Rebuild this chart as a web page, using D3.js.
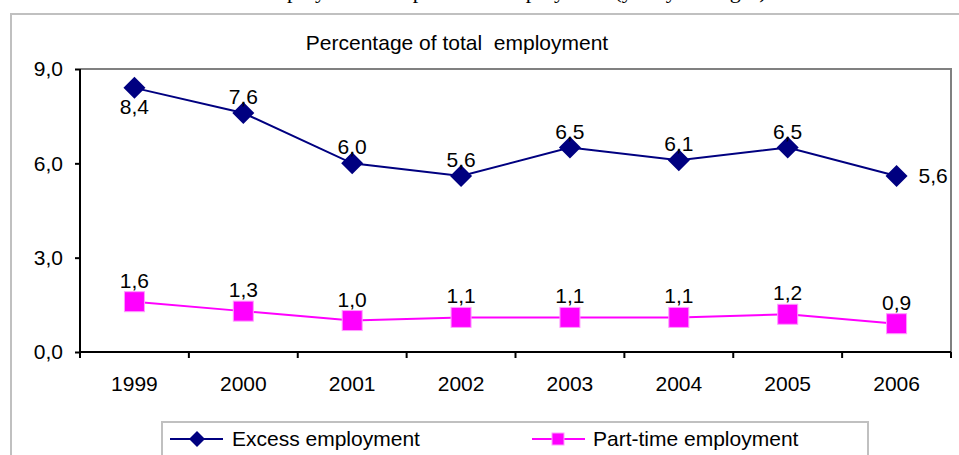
<!DOCTYPE html>
<html>
<head>
<meta charset="utf-8">
<script src="https://cdn.jsdelivr.net/npm/d3@7"></script>
<style>
  body { margin: 0; background: #fff; }
  svg text { font-family: "Liberation Sans", Arial, sans-serif; fill: #000; }
</style>
</head>
<body>
<script>
const years = ['1999', '2000', '2001', '2002', '2003', '2004', '2005', '2006'];
const excess = [8.4, 7.6, 6.0, 5.6, 6.5, 6.1, 6.5, 5.6];
const parttime = [1.6, 1.3, 1.0, 1.1, 1.1, 1.1, 1.2, 0.9];
const y_ticks = [0, 3, 6, 9];

const navy = '#000080';
const magenta = '#ff00ff';
const font_size = '21px';
const fmt = (v) => d3.format('.1f')(v).replace('.', ',');

const x = d3.scaleBand().domain(years).range([80, 951]);
const y = d3.scaleLinear().domain([0, 9]).range([352, 69]);

const svg = d3.select('body').append('svg')
  .attr('width', 959)
  .attr('height', 455);

// document caption above the chart, cut off by the page top as in the source
svg.append('text')
  .attr('x', 480).attr('y', -2)
  .attr('text-anchor', 'middle')
  .style('font-family', '"Liberation Serif", "Times New Roman", serif')
  .style('font-size', '22px')
  .text('Excess employment and part-time employment (yearly averages)');

// chart area border
svg.append('rect')
  .attr('x', 11).attr('y', 14)
  .attr('width', 960).attr('height', 460)
  .attr('fill', 'none')
  .attr('stroke', '#c0c0c0')
  .attr('stroke-width', 2);

svg.append('text')
  .attr('x', 457).attr('y', 50)
  .attr('text-anchor', 'middle')
  .style('font-size', font_size)
  .style('white-space', 'pre')
  .text('Percentage of total  employment');

// plot area border (top and right)
svg.append('path')
  .attr('d', `M${x.range()[0]},${y.range()[1]}H${x.range()[1]}V${y.range()[0]}`)
  .attr('fill', 'none')
  .attr('stroke', '#808080')
  .attr('stroke-width', 2);

// axes
const y_ax = d3.axisLeft(y).tickValues(y_ticks).tickSize(5).tickPadding(12).tickFormat(fmt);
svg.append('g')
  .attr('transform', 'translate(' + x.range()[0] + ',0)')
  .call(y_ax)
  .call(g => g.select('.domain').attr('stroke-width', 2).attr('d', `M0,${y.range()[0]}V${y.range()[1]}`))
  .call(g => g.selectAll('.tick line').attr('stroke-width', 2))
  .call(g => g.selectAll('text').style('font-size', font_size).attr('font-family', null));

const x_ax = d3.axisBottom(x).tickSize(0).tickPadding(24);
const xg = svg.append('g')
  .attr('transform', 'translate(0,' + y.range()[0] + ')')
  .call(x_ax);
xg.select('.domain').attr('stroke-width', 2).attr('d', `M${x.range()[0]},0H${x.range()[1]}`);
xg.selectAll('text').style('font-size', font_size).attr('font-family', null);
xg.selectAll('.sep')
  .data(years.map(d => x(d)).concat([x.range()[1]]))
  .enter().append('line')
    .attr('x1', d => d).attr('x2', d => d)
    .attr('y1', 0).attr('y2', 6)
    .attr('stroke', '#000')
    .attr('stroke-width', 2);

const cx = (i) => x(years[i]) + x.bandwidth() / 2;
const line = d3.line().x((d, i) => cx(i)).y(d => y(d));

function diamond(g, px, py, r) {
  g.append('path')
    .attr('d', `M${px},${py - r}L${px + r},${py}L${px},${py + r}L${px - r},${py}Z`)
    .attr('fill', navy);
}
function square(g, px, py, r) {
  g.append('rect')
    .attr('x', px - r).attr('y', py - r)
    .attr('width', 2 * r).attr('height', 2 * r)
    .attr('fill', magenta)
    .attr('stroke', '#ff9cff')
    .attr('stroke-width', 1);
}

// part-time series
svg.append('path')
  .datum(parttime)
  .attr('d', line)
  .attr('fill', 'none')
  .attr('stroke', magenta)
  .attr('stroke-width', 2);
parttime.forEach((v, i) => square(svg, cx(i), y(v), 10));
svg.selectAll('.pt_label')
  .data(parttime)
  .enter().append('text')
    .attr('class', 'pt_label')
    .attr('x', (d, i) => cx(i))
    .attr('y', d => y(d) - 14)
    .attr('text-anchor', 'middle')
    .style('font-size', font_size)
    .text(fmt);

// excess series
svg.append('path')
  .datum(excess)
  .attr('d', line)
  .attr('fill', 'none')
  .attr('stroke', navy)
  .attr('stroke-width', 2);
excess.forEach((v, i) => diamond(svg, cx(i), y(v), 11));
svg.selectAll('.ex_label')
  .data(excess)
  .enter().append('text')
    .attr('class', 'ex_label')
    .attr('x', (d, i) => i == excess.length - 1 ? cx(i) + 22 : cx(i))
    .attr('y', (d, i) => i == 0 ? y(d) + 26 : (i == excess.length - 1 ? y(d) + 7 : y(d) - 9))
    .attr('text-anchor', (d, i) => i == excess.length - 1 ? 'start' : 'middle')
    .style('font-size', font_size)
    .text(fmt);

// legend
const leg = svg.append('g');
leg.append('rect')
  .attr('x', 162).attr('y', 422)
  .attr('width', 706).attr('height', 60)
  .attr('fill', '#fff')
  .attr('stroke', '#c0c0c0')
  .attr('stroke-width', 2);
leg.append('line').attr('x1', 170).attr('x2', 223).attr('y1', 439).attr('y2', 439)
  .attr('stroke', navy).attr('stroke-width', 2);
diamond(leg, 197, 439, 8);
leg.append('text').attr('x', 232).attr('y', 446).style('font-size', font_size).text('Excess employment');
leg.append('line').attr('x1', 532).attr('x2', 585).attr('y1', 439).attr('y2', 439)
  .attr('stroke', magenta).attr('stroke-width', 2);
square(leg, 558, 439, 6);
leg.append('text').attr('x', 593).attr('y', 446).style('font-size', font_size).text('Part-time employment');
</script>
</body>
</html>
